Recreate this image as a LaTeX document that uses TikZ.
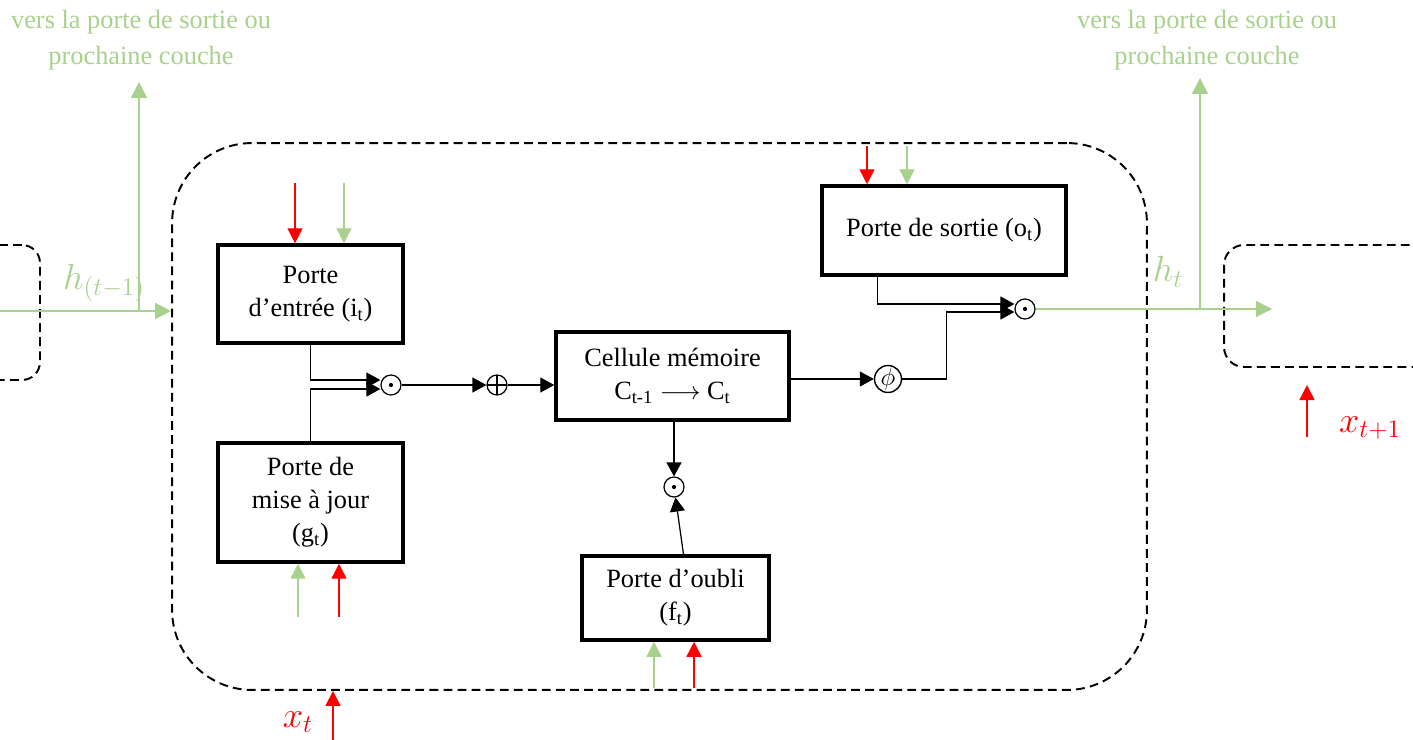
\documentclass[tikz,border=0pt]{standalone}
\usepackage{fontspec}
\setmainfont{Liberation Serif}
\usetikzlibrary{arrows.meta,calc}
\definecolor{hgreen}{RGB}{169,209,142}
\tikzset{
  gate/.style={draw, line width=2pt, align=center, inner sep=0pt, font=\fontsize{15}{18.7}\selectfont},
  cellbox/.style={draw, dash pattern=on 5pt off 3pt, line width=1.1pt},
  conn/.style={line width=0.7pt, -{Triangle[length=0.28cm,width=0.3cm]}},
  hgarrow/.style={hgreen, line width=0.9pt, -{Triangle[length=0.32cm,width=0.32cm]}},
  ingreen/.style={hgreen, line width=0.8pt, -{Triangle[length=0.3cm,width=0.3cm]}},
  inred/.style={red, line width=0.8pt, -{Triangle[length=0.3cm,width=0.3cm]}},
  prodop/.style={circle, draw, line width=0.7pt, minimum size=0.4cm, inner sep=0pt,
    path picture={\fill (path picture bounding box.center) circle (1.2pt);}},
  sumop/.style={circle, draw, line width=0.7pt, minimum size=0.4cm, inner sep=0pt,
    path picture={\draw[line width=0.7pt] (path picture bounding box.north) -- (path picture bounding box.south)
      (path picture bounding box.west) -- (path picture bounding box.east);}},
  glabel/.style={text=hgreen, align=center, font=\fontsize{15}{20.4}\selectfont},
  mlabel/.style={font=\fontsize{20}{24}\selectfont},
}
\begin{document}
\begin{tikzpicture}[x=0.02cm, y=-0.02cm]
  \clip (0,0) rectangle (1413,740);
  % 1. cellules en pointillés
  \node[cellbox, rounded corners=1.6cm, minimum width=19.5cm, minimum height=10.94cm] (lstm) at (659.5,416.5) {};
  \node[cellbox, rounded corners=0.36cm, minimum width=2.8cm, minimum height=2.7cm] (prevcell) at (-30,312.5) {};
  \node[cellbox, rounded corners=0.4cm, minimum width=5.52cm, minimum height=2.44cm] (nextcell) at (1362,306) {};

  % 2. portes
  \node[gate, minimum width=3.7cm, minimum height=1.96cm] (entree) at (310.5,294) {Porte\\d’entrée (i\textsubscript{t})};
  \node[gate, minimum width=3.7cm, minimum height=2.38cm] (maj) at (310.5,502.5) {Porte de\\mise à jour\\(g\textsubscript{t})};
  \node[gate, minimum width=4.66cm, minimum height=1.76cm] (cell) at (672.5,376) {Cellule mémoire\\C\textsubscript{t-1} $\longrightarrow$ C\textsubscript{t}};
  \node[gate, minimum width=4.88cm, minimum height=1.78cm] (sortie) at (944,230.5) {Porte de sortie (o\textsubscript{t})};
  \node[gate, minimum width=3.74cm, minimum height=1.68cm] (oubli) at (675.5,598) {Porte d’oubli\\(f\textsubscript{t})};

  % 3. opérateurs
  \node[prodop] (od1) at (391,385) {};
  \node[sumop] (plus) at (497,385) {};
  \node[prodop] (od2) at (674,487) {};
  \node[circle, draw, line width=0.8pt, minimum size=0.54cm, inner sep=0pt, font=\fontsize{15}{18}\selectfont] (phi) at (888,379) {$\phi$};
  \node[prodop] (od3) at (1025,309) {};

  % 4. liaisons internes
  \draw[conn] (entree.south) |- ($(od1.west)+(0,-5)$);
  \draw[conn] (maj.north) |- ($(od1.west)+(0,4)$);
  \draw[conn] (od1) -- (plus);
  \draw[conn] (plus) -- (plus -| cell.west);
  \draw[conn] (cell.south -| od2) -- (od2);
  \draw[conn] ($(oubli.north)+(8,0)$) -- (od2);
  \draw[conn] (cell.east |- phi) -- (phi);
  \draw[conn] (phi.east) -- ++(44,0) |- ($(od3.west)+(0,3)$);
  \draw[conn] ($(sortie.south west)+(57,0)$) |- ($(od3.west)+(0,-5)$);

  % 5. entrées des portes (x en rouge, h en vert)
  \draw[inred] ($(entree.north)+(-15.5,-60)$) -- ($(entree.north)+(-15.5,0)$);
  \draw[ingreen] ($(entree.north)+(33.5,-60)$) -- ($(entree.north)+(33.5,0)$);
  \draw[ingreen] ($(maj.south)+(-12.5,53)$) -- ($(maj.south)+(-12.5,0)$);
  \draw[inred] ($(maj.south)+(28.5,53)$) -- ($(maj.south)+(28.5,0)$);
  \draw[inred] ($(sortie.north)+(-77,-38)$) -- ($(sortie.north)+(-77,0)$);
  \draw[ingreen] ($(sortie.north)+(-37,-38)$) -- ($(sortie.north)+(-37,0)$);
  \draw[ingreen] ($(oubli.south)+(-21.5,46)$) -- ($(oubli.south)+(-21.5,0)$);
  \draw[inred] ($(oubli.south)+(18.5,46)$) -- ($(oubli.south)+(18.5,0)$);

  % 6. états cachés h et entrées x
  \coordinate (hin) at (0,311);
  \coordinate (upL) at (139,82);
  \coordinate (hout) at (1272,309);
  \coordinate (upR) at (1200,78);
  \draw[hgarrow] (hin) -- (hin -| lstm.west);
  \draw[hgarrow] (upL |- hin) -- (upL);
  \draw[hgarrow] (od3) -- (hout);
  \draw[hgarrow] (upR |- hout) -- (upR);
  \coordinate (xin) at (333,740);
  \coordinate (xnin) at (1307,437);
  \draw[inred] (xin) -- (xin |- lstm.south);
  \draw[inred] (xnin) -- ++(0,-52);

  % 7. étiquettes
  \node[glabel] (toL) at (141,40) {vers la porte de sortie ou\\prochaine couche};
  \node[glabel] (toR) at (1207,40) {vers la porte de sortie ou\\prochaine couche};
  \node[mlabel, text=hgreen] (hprev) at (104,283) {$h_{(t-1)}$};
  \node[mlabel, text=hgreen] (hcur) at (1168,272) {$h_t$};
  \node[mlabel, text=red] (xcur) at (298,722) {$x_t$};
  \node[mlabel, text=red] (xnext) at (1370,428) {$x_{t+1}$};
\end{tikzpicture}
\end{document}
